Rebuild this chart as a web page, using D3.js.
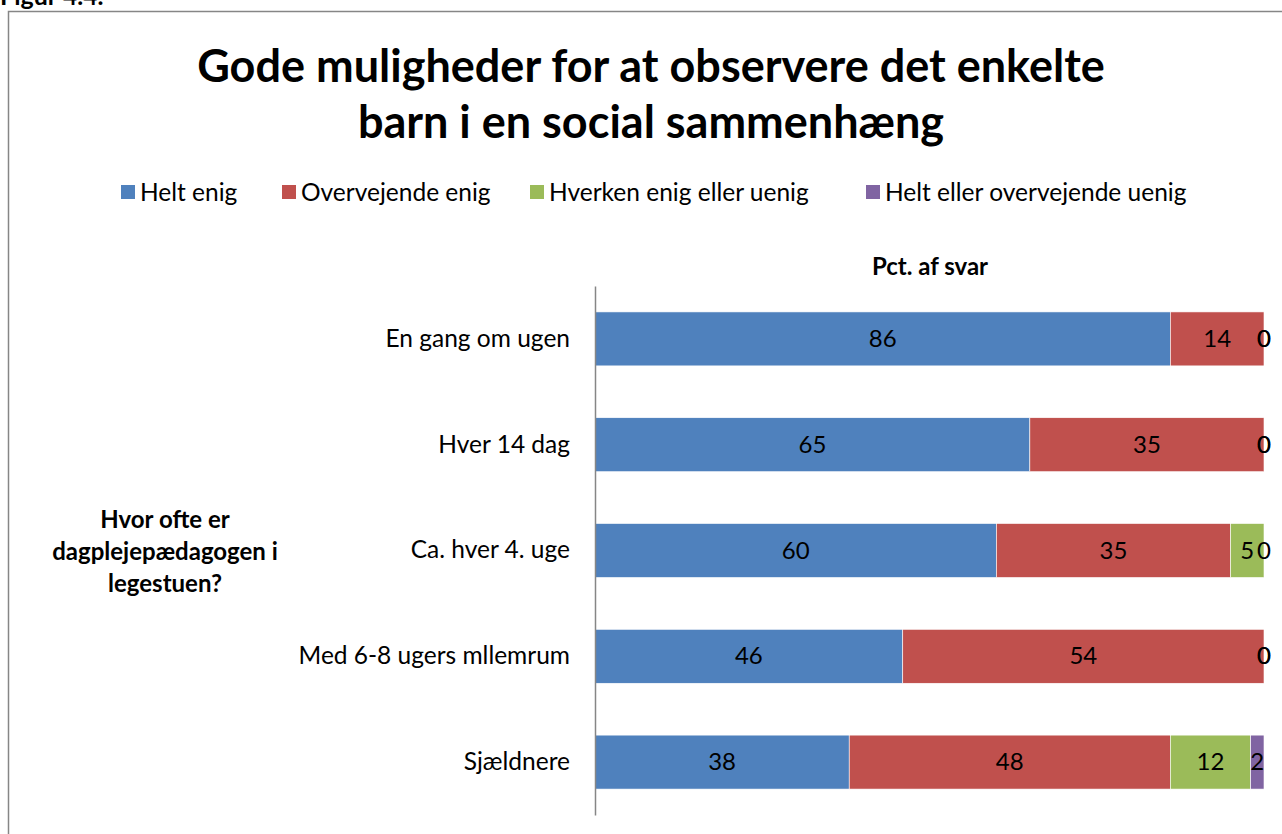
<!DOCTYPE html>
<html lang="da">
<head>
  <meta charset="UTF-8" />
  <title>Gode muligheder for at observere</title>
  <script src="https://cdnjs.cloudflare.com/ajax/libs/d3/7.8.5/d3.min.js"></script>
  <style>
    body { margin: 0; background: #fff; font-family: Lato, "Open Sans", sans-serif; }
    svg { display: block; }
  </style>
</head>
<body>
  <svg id="chart" width="1282" height="834"></svg>
  <script>
    const categories = ["En gang om ugen", "Hver 14 dag", "Ca. hver 4. uge", "Med 6-8 ugers mllemrum", "Sjældnere"];
    const seriesNames = ["Helt enig", "Overvejende enig", "Hverken enig eller uenig", "Helt eller overvejende uenig"];
    const heltEnig = [86, 65, 60, 46, 38];
    const overvejendeEnig = [14, 35, 35, 54, 48];
    const hverken = [0, 0, 5, 0, 12];
    const uenig = [0, 0, 0, 0, 2];
    const colors = ["#4F81BD", "#C0504D", "#9BBB59", "#8064A2"];

    const rows = categories.map((c, i) => ({
      cat: c,
      "Helt enig": heltEnig[i],
      "Overvejende enig": overvejendeEnig[i],
      "Hverken enig eller uenig": hverken[i],
      "Helt eller overvejende uenig": uenig[i]
    }));
    const stacked = d3.stack().keys(seriesNames)(rows);

    const svg = d3.select("#chart");

    // frame + clipped figure caption
    svg.append("text").attr("x", 0).attr("y", 5).attr("font-weight", "bold")
      .attr("font-size", 25).text("Figur 4.4.");
    svg.append("path").attr("d", "M8.5,834 V11.5 H1282")
      .attr("fill", "none").attr("stroke", "#868686").attr("stroke-width", 1.5);

    // title
    const title = svg.append("text").attr("text-anchor", "middle")
      .attr("font-weight", "bold").attr("font-size", 45).attr("fill", "#000");
    title.append("tspan").attr("x", 651).attr("y", 82).text("Gode muligheder for at observere det enkelte");
    title.append("tspan").attr("x", 651).attr("y", 138).text("barn i en social sammenhæng");

    // legend
    const legendX = [121, 282, 530, 866];
    const legend = svg.append("g").selectAll("g").data(seriesNames).join("g")
      .attr("transform", (d, i) => `translate(${legendX[i]},192)`);
    legend.append("rect").attr("x", 0).attr("y", -7).attr("width", 14).attr("height", 14)
      .attr("fill", (d, i) => colors[i]);
    legend.append("text").attr("x", 19).attr("y", 9).attr("font-size", 24.5).text(d => d);

    const x = d3.scaleLinear().domain([0, 100]).range([595, 1264]);
    const y = d3.scaleBand().domain(categories).range([286, 815]).paddingInner(0.49).paddingOuter(0.245);

    // axis titles
    svg.append("text").attr("x", 930).attr("y", 275).attr("text-anchor", "middle")
      .attr("font-weight", "bold").attr("font-size", 24).text("Pct. af svar");

    const yTitle = svg.append("text").attr("text-anchor", "middle")
      .attr("font-weight", "bold").attr("font-size", 24);
    ["Hvor ofte er", "dagplejepædagogen i", "legestuen?"].forEach((t, i) => {
      yTitle.append("tspan").attr("x", 165).attr("y", 528 + i * 32).text(t);
    });

    // bars
    const layers = svg.append("g").selectAll("g").data(stacked).join("g")
      .attr("fill", (d, i) => colors[i]);
    layers.selectAll("rect").data(d => d).join("rect")
      .attr("x", d => x(d[0]))
      .attr("y", d => y(d.data.cat))
      .attr("width", d => x(d[1]) - x(d[0]))
      .attr("height", y.bandwidth())
      .attr("stroke", "#fff").attr("stroke-width", 0.6);

    // value labels
    const labels = svg.append("g").attr("font-size", 24).attr("text-anchor", "middle");
    stacked.forEach(layer => {
      labels.selectAll(null).data(layer).join("text")
        .attr("x", d => (x(d[0]) + x(d[1])) / 2)
        .attr("y", d => y(d.data.cat) + y.bandwidth() / 2 + 8)
        .text(d => d[1] - d[0]);
    });

    // category axis
    const yAxis = svg.append("g").attr("transform", "translate(595,0)")
      .call(d3.axisLeft(y).tickSize(0).tickPadding(25));
    yAxis.select(".domain").attr("stroke", "#868686").attr("stroke-width", 1.5);
    yAxis.selectAll("text").attr("font-size", 24.5).attr("fill", "#000")
      .attr("font-family", "Lato, 'Open Sans', sans-serif");
  </script>
</body>
</html>
